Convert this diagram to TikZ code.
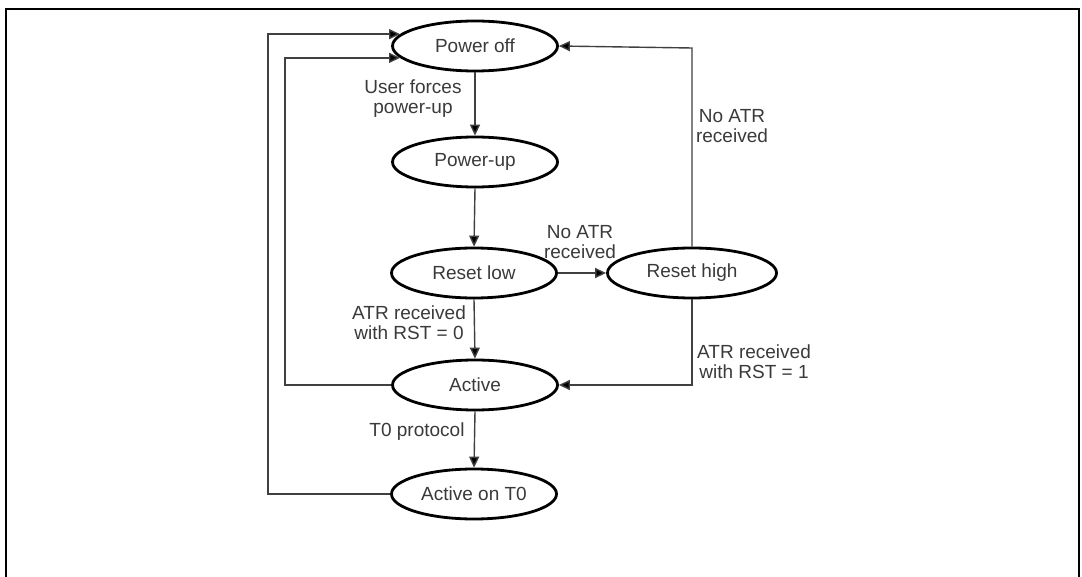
\documentclass[tikz,border=0pt]{standalone}
\usepackage{fontspec}
\setmainfont{Liberation Sans}
\usetikzlibrary{shapes.geometric,arrows.meta}
\definecolor{txt}{HTML}{3A3A3A}
\definecolor{ln}{HTML}{404040}
\tikzset{
  state/.style={ellipse, draw=black, line width=2.8pt, minimum width=165pt, minimum height=50pt, inner sep=0pt, text=txt, font=\fontsize{19}{20}\selectfont},
  lbl/.style={text=txt, align=center, inner sep=0pt, font=\fontsize{19}{20}\selectfont},
  arr/.style={draw=ln, line width=1.4pt, -{Triangle[length=11pt,width=10pt,fill=black]}},
  conn/.style={draw=ln, line width=1.4pt}
}
\begin{document}
\begin{tikzpicture}[x=1pt,y=-1pt]
\useasboundingbox (0,0) rectangle (1082,577);
\fill[white] (0,0) rectangle (1082,577);
% frame
\draw[line width=2.8pt] (6,600) -- (6,9) -- (1079,9) -- (1079,600);
% states
\node[state] (poff) at (475,46) {Power off};
\node[state] (pup) at (475,162) {Power-up};
\node[state] (rlow) at (474,273) {Reset low};
\node[state, minimum width=169pt] (rhigh) at (692,273) {Reset high};
\node[state] (act) at (475,385) {Active};
\node[state] (t0) at (474,494) {Active on T0};
% helper coordinates
\coordinate (ox) at (268,0);
\coordinate (ix) at (285,0);
\coordinate (topy) at (0,48);
% vertical transitions
\draw[arr] (poff.south) -- (pup.north);
\draw[arr] (pup.south) -- (rlow.north);
\draw[arr] (rlow.south) -- (act.north);
\draw[arr] (act.south) -- (t0.north);
\draw[arr] (rlow.east) -- (rhigh.west);
% right loops
\draw[arr] (rhigh.north) -- (rhigh.north |- topy) -- (poff.east);
\draw[arr] (rhigh.south) -- (rhigh.south |- act.east) -- (act.east);
% left loops
\draw[arr] (t0.west) -- (t0.west -| ox) -- (ox |- poff.171) -- (poff.171);
\draw[arr] (act.west) -- (act.west -| ix) -- (ix |- poff.189) -- (poff.189);
% labels
\node[lbl] (l1) at (413,99) {User forces\\power-up};
\node[lbl] (l2) at (580,242) {No ATR\\received};
\node[lbl] (l3) at (732,126) {No ATR\\received};
\node[lbl] (l4) at (409,323) {ATR received\\with RST = 0};
\node[lbl] (l5) at (754,362) {ATR received\\with RST = 1};
\node[lbl] (l6) at (417,432) {T0 protocol};
\end{tikzpicture}
\end{document}
